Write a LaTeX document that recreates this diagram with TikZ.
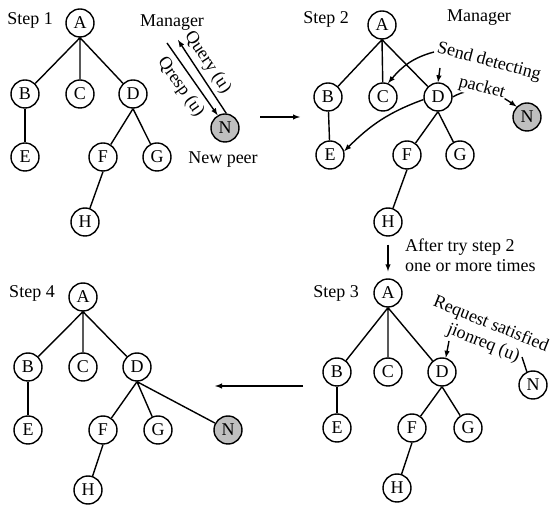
\documentclass[tikz,border=0pt]{standalone}
\usepackage{fontspec}
\setmainfont{Liberation Serif}

\tikzset{
  peer/.style={circle,draw,minimum size=28pt,inner sep=0pt},
  newpeer/.style={peer,fill=gray!50},
}

\begin{document}
\begin{tikzpicture}[x=1pt,y=1pt,line width=1.4pt,>=latex,
    every node/.append style={font=\fontsize{18}{20}\selectfont}]
  \useasboundingbox (0,0) rectangle (555,-510);

  % step 1
  \node (st1) at (30,-20) {Step 1};
  \node[peer] (A1) at (80,-23) {A};
  \node[peer] (B1) at (25,-94) {B};
  \node[peer] (C1) at (80,-94) {C};
  \node[peer] (D1) at (133,-94) {D};
  \node[peer] (E1) at (25,-157) {E};
  \node[peer] (F1) at (103,-157) {F};
  \node[peer] (G1) at (157,-157) {G};
  \node[peer] (H1) at (85,-222) {H};
  \node[newpeer] (N1) at (225,-128) {N};
  \draw (A1.south) -- (B1) (A1.south) -- (C1) (A1.south) -- (D1);
  \draw (B1) -- (E1);
  \draw (D1.south) -- (F1) (D1.south) -- (G1);
  \draw (F1.south) -- (H1);
  \node (mgr1) at (172,-23) {Manager};
  \node (np1) at (223,-160) {New peer};
  \coordinate (q1) at (178,-40);
  \coordinate (r1) at (167,-43);
  \draw[->] (N1.85) -- node[sloped,above,pos=0.6] {Query (u)} (q1);
  \draw[->] (r1) -- node[sloped,below=2pt,pos=0.5] {Qresp (u)} (N1.120);

  \coordinate (s12a) at (260,-117);
  \coordinate (s12b) at (300,-117);
  \draw[->] (s12a) -- (s12b);

  % step 2
  \node (st2) at (326,-19) {Step 2};
  \node[peer] (A2) at (382,-25) {A};
  \node[peer] (B2) at (328,-97) {B};
  \node[peer] (C2) at (383,-97) {C};
  \node[peer] (D2) at (438,-97) {D};
  \node[peer] (E2) at (330,-155) {E};
  \node[peer] (F2) at (407,-155) {F};
  \node[peer] (G2) at (460,-155) {G};
  \node[peer] (H2) at (388,-222) {H};
  \node[newpeer] (N2) at (527,-117) {N};
  \draw (A2.south) -- (B2) (A2.south) -- (C2) (A2.south) -- (D2);
  \draw (B2) -- (E2);
  \draw (D2.south) -- (F2) (D2.south) -- (G2);
  \draw (F2.south) -- (H2);
  \node (mgr2) at (479,-18) {Manager};
  \node[rotate=-15] (snd) at (489,-62) {Send detecting};
  \coordinate (snd0) at (434,-52);
  \coordinate (snd1) at (440,-68);
  \draw[->] (snd0) to[out=195,in=50] (C2.70);
  \draw[->] (snd1) -- (D2.north);
  \draw[->] (D2.190) to[out=200,in=45] (E2.15);
  \draw[->] (D2.east) to[out=30,in=145] (N2.north west);
  \node[rotate=-15,fill=white,inner sep=1pt] (pkt) at (482,-88) {packet};

  % step 3
  \node (st3) at (336,-293) {Step 3};
  \node[peer] (A3) at (388,-293) {A};
  \node[peer] (B3) at (337,-372) {B};
  \node[peer] (C3) at (388,-372) {C};
  \node[peer] (D3) at (442,-372) {D};
  \node[peer] (E3) at (337,-428) {E};
  \node[peer] (F3) at (412,-428) {F};
  \node[peer] (G3) at (468,-428) {G};
  \node[peer] (H3) at (397,-488) {H};
  \node[peer] (N3) at (533,-385) {N};
  \draw (A3.south) -- (B3) (A3.south) -- (C3) (A3.south) -- (D3);
  \draw (B3) -- (E3);
  \draw (D3.south) -- (F3) (D3.south) -- (G3);
  \draw (F3.south) -- (H3);
  \draw[->,shorten <=8pt,shorten >=7pt] (H2) -- (A3);
  \node[anchor=west,align=left] (try) at (401,-255) {After try step 2\\one or more times};
  \node[rotate=-22,align=center] (req) at (487,-334) {Request satisfied\\jionreq (u)};
  \coordinate (req0) at (449,-341);
  \coordinate (req1) at (522,-357);
  \draw[->] (req0) -- (D3.75);
  \draw (req1) -- (N3.115);

  \coordinate (s34a) at (303,-386);
  \coordinate (s34b) at (215,-386);
  \draw[->] (s34a) -- (s34b);

  % step 4
  \node (st4) at (32,-293) {Step 4};
  \node[peer] (A4) at (83,-297) {A};
  \node[peer] (B4) at (28,-367) {B};
  \node[peer] (C4) at (83,-367) {C};
  \node[peer] (D4) at (137,-367) {D};
  \node[peer] (E4) at (28,-430) {E};
  \node[peer] (F4) at (103,-430) {F};
  \node[peer] (G4) at (158,-430) {G};
  \node[peer] (H4) at (88,-490) {H};
  \node[newpeer] (N4) at (228,-430) {N};
  \draw (A4.south) -- (B4) (A4.south) -- (C4) (A4.south) -- (D4);
  \draw (B4) -- (E4);
  \draw (D4.south) -- (F4) (D4.south) -- (G4) (D4.south) -- (N4);
  \draw (F4.south) -- (H4);
\end{tikzpicture}
\end{document}
